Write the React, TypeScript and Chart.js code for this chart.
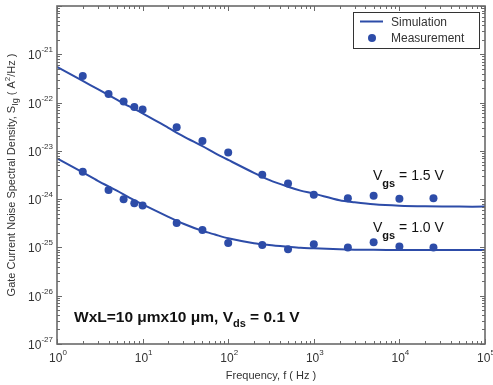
import React, { useEffect, useRef } from 'react';
import { Chart, registerables } from 'chart.js';
Chart.register(...registerables);

// Simulation curves (frequency in Hz, S_Ig in A^2/Hz)
const simFreq = [1, 2, 3, 5, 7, 10, 20, 30, 50, 70, 100, 200, 300, 500, 700, 1000, 2000, 3000, 5000, 10000, 20000, 50000, 100000];
const sim15 = [5.5e-22, 2.8e-22, 1.9e-22, 1.15e-22, 8.3e-23, 6.0e-23, 3.0e-23, 2.0e-23, 1.25e-23, 9.0e-24, 6.5e-24, 3.5e-24, 2.5e-24, 1.8e-24, 1.5e-24, 1.3e-24, 9.5e-25, 8.6e-25, 7.8e-25, 7.3e-25, 7.1e-25, 7.0e-25, 7.0e-25];
const sim10 = [7.0e-24, 3.6e-24, 2.4e-24, 1.5e-24, 1.08e-24, 7.8e-25, 4.3e-25, 3.1e-25, 2.2e-25, 1.85e-25, 1.55e-25, 1.22e-25, 1.12e-25, 1.03e-25, 9.8e-26, 9.6e-26, 9.2e-26, 9.0e-26, 8.9e-26, 8.8e-26, 8.8e-26, 8.8e-26, 8.8e-26];

// Measurements
const measFreq = [2, 4, 6, 8, 10, 25, 50, 100, 250, 500, 1000, 2500, 5000, 10000, 25000];
const meas15 = [3.56e-22, 1.5e-22, 1.05e-22, 8.1e-23, 7.2e-23, 3.1e-23, 1.6e-23, 9.3e-24, 3.2e-24, 2.1e-24, 1.24e-24, 1.04e-24, 1.17e-24, 1.02e-24, 1.04e-24];
const meas10 = [3.7e-24, 1.55e-24, 1.0e-24, 8.2e-25, 7.4e-25, 3.2e-25, 2.3e-25, 1.24e-25, 1.12e-25, 9.2e-26, 1.17e-25, 1.0e-25, 1.28e-25, 1.05e-25, 1.0e-25];

const xTickExps = [0, 1, 2, 3, 4, 5];
const yTickExps = [-21, -22, -23, -24, -25, -26, -27];

const BLUE = '#2D4CA8';
const AXIS = '#6a6a6a';
const TEXT = '#333333';
const FONT = '"Liberation Sans", Arial, sans-serif';

type Part = { t: string; size: number; dy?: number; bold?: boolean };

function richWidth(ctx: CanvasRenderingContext2D, parts: Part[]) {
  let w = 0;
  for (const p of parts) {
    ctx.font = `${p.bold ? 'bold ' : ''}${p.size}px ${FONT}`;
    w += ctx.measureText(p.t).width;
  }
  return w;
}

function drawRich(ctx: CanvasRenderingContext2D, parts: Part[], x: number, y: number, align: 'left' | 'center' | 'right' = 'left') {
  const w = richWidth(ctx, parts);
  let cx = align === 'left' ? x : align === 'center' ? x - w / 2 : x - w;
  ctx.textAlign = 'left';
  ctx.textBaseline = 'alphabetic';
  for (const p of parts) {
    ctx.font = `${p.bold ? 'bold ' : ''}${p.size}px ${FONT}`;
    ctx.fillText(p.t, cx, y + (p.dy || 0));
    cx += ctx.measureText(p.t).width;
  }
}

const decorPlugin = {
  id: 'decor',
  afterDraw(chart: any) {
    const ctx: CanvasRenderingContext2D = chart.ctx;
    const { left, right, top, bottom } = chart.chartArea;
    const xs = chart.scales.x;
    const ys = chart.scales.y;
    ctx.save();

    // ticks
    ctx.strokeStyle = AXIS;
    ctx.lineWidth = 1;
    const majorLen = 5;
    const minorLen = 3;
    ctx.beginPath();
    for (let i = 0; i < xTickExps.length; i++) {
      const e = xTickExps[i];
      const px = Math.round(xs.getPixelForValue(Math.pow(10, e))) + 0.5;
      ctx.moveTo(px, bottom); ctx.lineTo(px, bottom - majorLen);
      ctx.moveTo(px, top); ctx.lineTo(px, top + majorLen);
      if (i < xTickExps.length - 1) {
        for (let m = 2; m <= 9; m++) {
          const mx = Math.round(xs.getPixelForValue(m * Math.pow(10, e))) + 0.5;
          ctx.moveTo(mx, bottom); ctx.lineTo(mx, bottom - minorLen);
          ctx.moveTo(mx, top); ctx.lineTo(mx, top + minorLen);
        }
      }
    }
    const yAll = [-20, ...yTickExps];
    for (let i = 0; i < yAll.length; i++) {
      const e = yAll[i];
      const py = Math.round(ys.getPixelForValue(Math.pow(10, e))) + 0.5;
      ctx.moveTo(left, py); ctx.lineTo(left + majorLen, py);
      ctx.moveTo(right, py); ctx.lineTo(right - majorLen, py);
      if (i < yAll.length - 1) {
        for (let m = 2; m <= 9; m++) {
          const my = Math.round(ys.getPixelForValue(m * Math.pow(10, e - 1))) + 0.5;
          ctx.moveTo(left, my); ctx.lineTo(left + minorLen, my);
          ctx.moveTo(right, my); ctx.lineTo(right - minorLen, my);
        }
      }
    }
    ctx.stroke();

    // box
    ctx.lineWidth = 1.6;
    ctx.strokeStyle = AXIS;
    ctx.strokeRect(left, top, right - left, bottom - top);

    // tick labels
    ctx.fillStyle = TEXT;
    for (const e of xTickExps) {
      const px = xs.getPixelForValue(Math.pow(10, e));
      drawRich(ctx, [{ t: '10', size: 12 }, { t: String(e), size: 8, dy: -7 }], px + 1, bottom + 18, 'center');
    }
    for (const e of yTickExps) {
      const py = ys.getPixelForValue(Math.pow(10, e));
      drawRich(ctx, [{ t: '10', size: 12 }, { t: String(e), size: 8, dy: -7 }], left - 4, py + 5, 'right');
    }

    // axis titles
    drawRich(ctx, [{ t: 'Frequency, f ( Hz )', size: 11 }], (left + right) / 2, bottom + 35, 'center');
    ctx.save();
    ctx.translate(15, (top + bottom) / 2);
    ctx.rotate(-Math.PI / 2);
    drawRich(ctx, [
      { t: 'Gate Current Noise Spectral Density, S', size: 11 },
      { t: 'Ig', size: 9, dy: 3 },
      { t: ' ( A', size: 11 },
      { t: '2', size: 8, dy: -5 },
      { t: '/Hz )', size: 11 },
    ], 0, 0, 'center');
    ctx.restore();

    // annotations
    ctx.fillStyle = '#111';
    drawRich(ctx, [{ t: 'V', size: 14 }, { t: 'gs', size: 11, dy: 7, bold: true }, { t: ' = 1.5 V', size: 14 }], 373, 180);
    drawRich(ctx, [{ t: 'V', size: 14 }, { t: 'gs', size: 11, dy: 7, bold: true }, { t: ' = 1.0 V', size: 14 }], 373, 232);
    drawRich(ctx, [
      { t: 'WxL=10 μmx10 μm, V', size: 15.5, bold: true },
      { t: 'ds', size: 11, dy: 5, bold: true },
      { t: ' = 0.1 V', size: 15.5, bold: true },
    ], 74, 322);

    // legend
    const lx = 353, ly = 12, lw = 126, lh = 36;
    ctx.fillStyle = '#fff';
    ctx.fillRect(lx, ly, lw, lh);
    ctx.strokeStyle = '#333';
    ctx.lineWidth = 1;
    ctx.strokeRect(lx + 0.5, ly + 0.5, lw, lh);
    ctx.strokeStyle = BLUE;
    ctx.lineWidth = 2;
    ctx.beginPath();
    ctx.moveTo(360, 21.5);
    ctx.lineTo(383, 21.5);
    ctx.stroke();
    ctx.fillStyle = BLUE;
    ctx.beginPath();
    ctx.arc(372, 38, 4, 0, Math.PI * 2);
    ctx.fill();
    ctx.fillStyle = TEXT;
    drawRich(ctx, [{ t: 'Simulation', size: 12 }], 391, 26);
    drawRich(ctx, [{ t: 'Measurement', size: 12 }], 391, 42);

    ctx.restore();
  },
};

export default function App() {
  const ref = useRef<HTMLCanvasElement>(null);
  useEffect(() => {
    if (!ref.current) return;
    const toXY = (xs: number[], ys: number[]) => xs.map((x, i) => ({ x, y: ys[i] }));
    const chart = new Chart(ref.current, {
      type: 'scatter',
      data: {
        datasets: [
          { label: 'Simulation 1.5', data: toXY(simFreq, sim15), showLine: true, borderColor: BLUE, borderWidth: 2, pointRadius: 0, tension: 0.3 },
          { label: 'Simulation 1.0', data: toXY(simFreq, sim10), showLine: true, borderColor: BLUE, borderWidth: 2, pointRadius: 0, tension: 0.3 },
          { label: 'Measurement 1.5', data: toXY(measFreq, meas15), backgroundColor: BLUE, borderColor: BLUE, pointRadius: 4, borderWidth: 0 },
          { label: 'Measurement 1.0', data: toXY(measFreq, meas10), backgroundColor: BLUE, borderColor: BLUE, pointRadius: 4, borderWidth: 0 },
        ],
      } as any,
      options: {
        animation: false,
        responsive: false,
        devicePixelRatio: 1,
        layout: { padding: { left: 57, top: 6, right: 8, bottom: 41 } },
        plugins: { legend: { display: false }, tooltip: { enabled: false } },
        scales: {
          x: {
            type: 'logarithmic', min: 1, max: 100000,
            grid: { display: false }, border: { display: false },
            ticks: { display: false },
            afterFit: (s: any) => { s.height = 0; },
          },
          y: {
            type: 'logarithmic', min: 1e-27, max: 1e-20,
            grid: { display: false }, border: { display: false },
            ticks: { display: false },
            afterFit: (s: any) => { s.width = 0; },
          },
        },
      } as any,
      plugins: [decorPlugin],
    });
    return () => chart.destroy();
  }, []);
  return (
    <div style={{ position: 'absolute', left: 0, top: 0, width: 493, height: 385, background: '#fff' }}>
      <canvas ref={ref} width={493} height={385} style={{ width: 493, height: 385 }} />
    </div>
  );
}
